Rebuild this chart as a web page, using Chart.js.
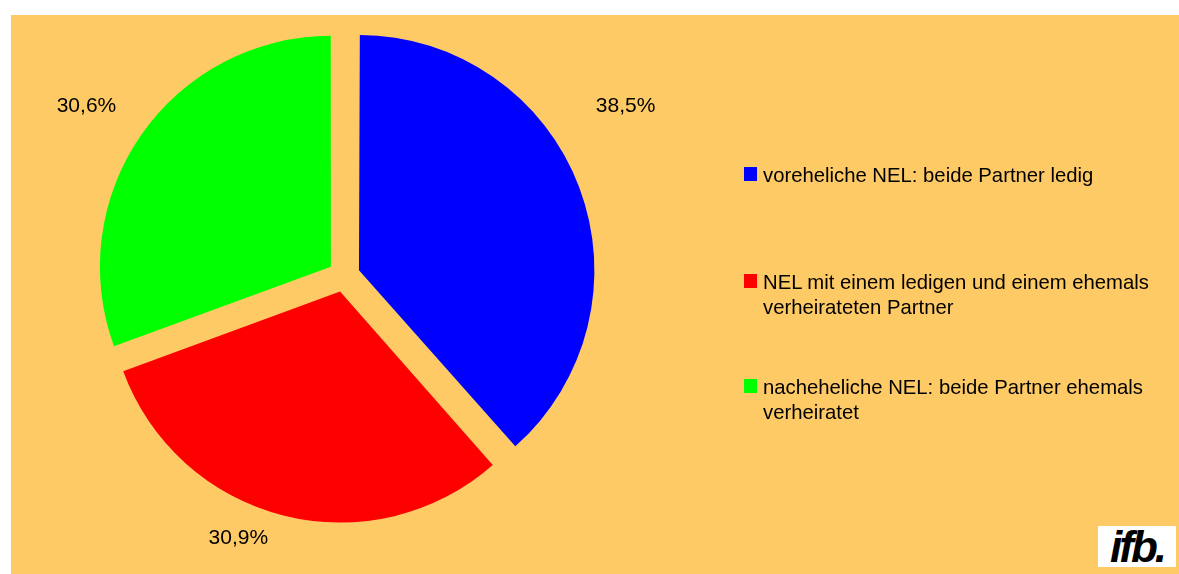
<!DOCTYPE html>
<html>
<head>
<meta charset="utf-8">
<script src="https://cdn.jsdelivr.net/npm/chart.js@4"></script>
<style>
  body { margin: 0; background: #fff; font-family: "Liberation Sans", Arial, sans-serif; }
  #panel { position: absolute; left: 11px; top: 15px; width: 1168px; height: 559px; background: #FECA66; }
  #wrap { position: absolute; left: 0; top: 0; width: 1168px; height: 559px; }
  #legend { position: absolute; left: 733px; top: 150px; font-size: 20.3px; color: #000; line-height: 25px; }
  .item { position: absolute; left: 0; white-space: nowrap; }
  .box { position: absolute; left: 0; top: 4px; width: 13px; height: 14px; }
  .txt { position: absolute; left: 19px; top: 0; }
  #logo { position: absolute; left: 1087px; top: 511px; width: 78px; height: 41px; background: #fff;
          font: italic bold 44px "Liberation Sans", Arial, sans-serif; line-height: 41px; color: #000;
          letter-spacing: -3px; text-align: center; overflow: hidden; }
</style>
</head>
<body>
<div id="panel">
  <div id="wrap"><canvas id="pie"></canvas></div>
  <div id="legend"></div>
  <div id="logo">ifb.</div>
</div>
<script>
const categories = [
  ['voreheliche NEL: beide Partner ledig'],
  ['NEL mit einem ledigen und einem ehemals', 'verheirateten Partner'],
  ['nacheheliche NEL: beide Partner ehemals', 'verheiratet']
];
const values = [38.5, 30.9, 30.6];
const colors = ['#0000FF', '#FF0000', '#00FF00'];

// label placement around each slice (turn in degrees, distance as share of radius)
const labelTurn = [-10.4, 7.7, -1.6];
const labelDist = [1.43, 1.23, 1.34];

const fmt = v => v.toFixed(1).replace('.', ',') + '%';

const pctLabels = {
  id: 'pctLabels',
  afterDatasetsDraw(chart) {
    const ctx = chart.ctx;
    const meta = chart.getDatasetMeta(0);
    ctx.save();
    ctx.font = '21px "Liberation Sans", Arial, sans-serif';
    ctx.fillStyle = '#000';
    ctx.textAlign = 'center';
    ctx.textBaseline = 'middle';
    meta.data.forEach((arc, i) => {
      const mid = (arc.startAngle + arc.endAngle) / 2 + labelTurn[i] * Math.PI / 180;
      const d = arc.outerRadius * labelDist[i];
      ctx.fillText(fmt(values[i]), arc.x + Math.cos(mid) * d, arc.y + Math.sin(mid) * d);
    });
    ctx.restore();
  }
};

new Chart(document.getElementById('pie').getContext('2d'), {
  type: 'pie',
  data: {
    labels: categories.map(c => c.join(' ')),
    datasets: [{
      data: values,
      backgroundColor: colors,
      borderWidth: 0,
      offset: 64,
      radius: 230
    }]
  },
  options: {
    responsive: true,
    maintainAspectRatio: false,
    animation: false,
    layout: { padding: { left: 0, right: 502, top: 0, bottom: 37 } },
    plugins: {
      legend: { display: false },
      tooltip: { enabled: false }
    }
  },
  plugins: [pctLabels]
});

// legend
const tops = [-2, 105, 210];
const legend = document.getElementById('legend');
categories.forEach((c, i) => {
  const item = document.createElement('div');
  item.className = 'item';
  item.style.top = tops[i] + 'px';
  item.innerHTML = '<div class="box" style="background:' + colors[i] + '"></div>' +
    '<div class="txt">' + c.join('<br>') + '</div>';
  legend.appendChild(item);
});
</script>
</body>
</html>
